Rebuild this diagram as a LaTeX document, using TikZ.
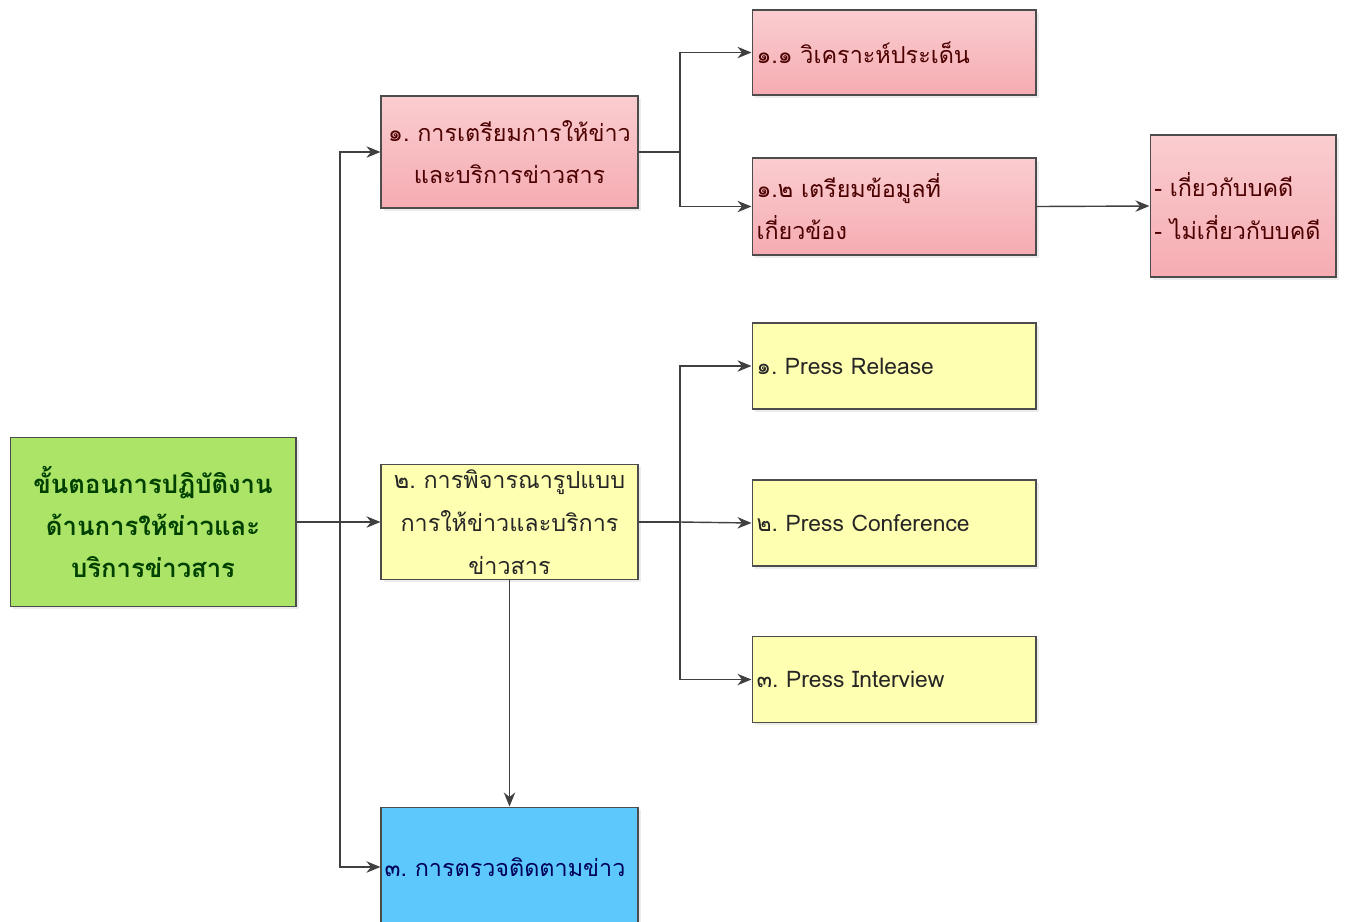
\documentclass[tikz,border=0pt]{standalone}
\usepackage{fontspec}
\setmainfont[Script=Thai]{Loma}
\usepackage{tikz}
\usetikzlibrary{shapes.geometric, arrows, arrows.meta, shadows}
\definecolor{greenbox}{RGB}{172,228,104}
\definecolor{pinktop}{RGB}{250,205,208}
\definecolor{pinkbot}{RGB}{245,172,178}
\definecolor{yellowbox}{RGB}{255,255,178}
\definecolor{bluebox}{RGB}{92,200,252}
\tikzstyle{basebox} = [rectangle, 
draw=black!70, 
line width=0.6pt,
inner sep=2pt,
drop shadow={shadow xshift=1.5pt, shadow yshift=-1.5pt, opacity=0.15}]
\tikzstyle{start} = [basebox, 
minimum width=5.72cm, 
minimum height=3.38cm,
text width=5.5cm,
align=center, 
fill=greenbox,
text=green!25!black,
font=\fontsize{14.6}{23.8}\selectfont\bfseries]
\tikzstyle{prepbox} = [basebox, 
minimum height=1.7cm,
top color=pinktop, bottom color=pinkbot,
text=red!30!black,
font=\fontsize{13.3}{24.4}\selectfont]
\tikzstyle{formbox} = [basebox, 
minimum height=1.72cm,
fill=yellowbox,
text=black!85,
font=\fontsize{13}{24.4}\selectfont]
\tikzstyle{arrow} = [line width=0.8pt,->,>={Stealth[length=8pt,width=6.5pt]},draw=black!75]

\begin{document}
\begin{tikzpicture}[x=0.02cm, y=-0.02cm]
        \useasboundingbox (0,0) rectangle (1346,921);
        \node (main) [start] at (153,522) {ขั้นตอนการปฏิบัติงาน\\ด้านการให้ข่าวและ\\บริการข่าวสาร};
        
        % prep branch
        \node (prep) [prepbox, minimum width=5.14cm, minimum height=2.24cm, text width=5cm, align=center] at (509.5,152) {๑.~การเตรียมการให้ข่าว\\และบริการข่าวสาร};
        \node (analyse) [prepbox, minimum width=5.68cm, text width=5.5cm, align=left] at (894,52.5) {๑.๑ วิเคราะห์ประเด็น};
        \node (data) [prepbox, minimum width=5.68cm, minimum height=1.94cm, text width=5.5cm, align=left] at (894,206.5) {๑.๒ เตรียมข้อมูลที่\\เกี่ยวข้อง};
        \node (cases) [prepbox, minimum width=3.72cm, minimum height=2.84cm, text width=3.55cm, align=left] at (1243,206) {- เกี่ยวกับบคดี\\- ไม่เกี่ยวกับบคดี};
        
        % form branch
        \node (form) [formbox, minimum width=5.14cm, minimum height=2.3cm, text width=5cm, align=center, font=\fontsize{13.3}{24.4}\selectfont] at (509.5,522) {๒.~การพิจารณารูปแบบ\\การให้ข่าวและบริการ\\ข่าวสาร};
        \node (release) [formbox, minimum width=5.68cm, text width=5.5cm, align=left] at (894,366) {๑.~Press Release};
        \node (conference) [formbox, minimum width=5.68cm, text width=5.5cm, align=left] at (894,523) {๒.~Press Conference};
        \node (interview) [formbox, minimum width=5.68cm, text width=5.5cm, align=left] at (894,679.5) {๓.~Press Interview};
        
        % monitor
        \node (monitor) [basebox, fill=bluebox, text=blue!35!black, minimum width=5.14cm, minimum height=2.4cm, text width=5cm, align=left, font=\fontsize{13.3}{24.4}\selectfont] at (509.5,867) {๓.~การตรวจติดตามข่าว};
        
        \coordinate (trunk) at (340,522);
        \coordinate (split1) at (680,152);
        \coordinate (split2) at (680,522);
        
        \draw [line width=0.8pt, draw=black!75] (main.east) -- (trunk);
        \draw [arrow] (trunk) |- (prep.west);
        \draw [arrow] (trunk) -- (form.west);
        \draw [arrow] (trunk) |- (monitor.west);
        \draw [line width=0.8pt, draw=black!75] (prep.east) -- (split1);
        \draw [arrow] (split1) |- (analyse.west);
        \draw [arrow] (split1) |- (data.west);
        \draw [arrow] (data.east) -- (cases.west);
        \draw [line width=0.8pt, draw=black!75] (form.east) -- (split2);
        \draw [arrow] (split2) |- (release.west);
        \draw [arrow] (split2) -- (conference.west);
        \draw [arrow] (split2) |- (interview.west);
        \draw [arrow] (form.south) -- (monitor.north);
        
        \end{tikzpicture}
\end{document}
